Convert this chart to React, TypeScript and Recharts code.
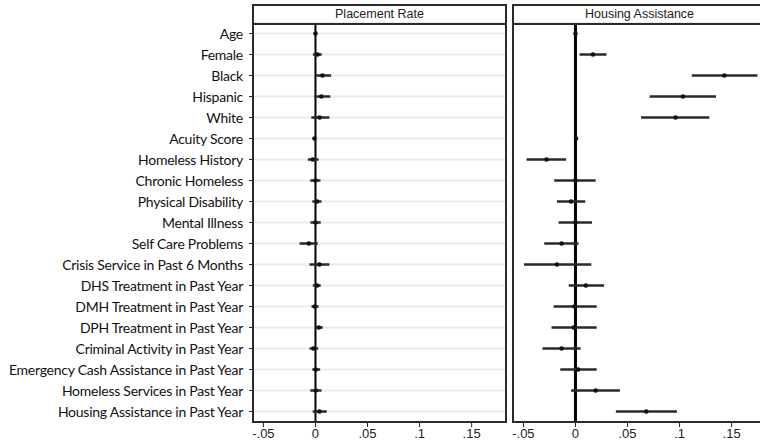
import React from "react";
import {
  ScatterChart,
  Scatter,
  XAxis,
  YAxis,
  CartesianGrid,
  ErrorBar,
  ReferenceLine,
} from "recharts";

// Covariates, top to bottom
const categories = [
  "Age",
  "Female",
  "Black ",
  "Hispanic",
  "White",
  "Acuity Score",
  "Homeless History",
  "Chronic Homeless",
  "Physical Disability",
  "Mental Illness",
  "Self Care Problems",
  "Crisis Service in Past 6 Months",
  "DHS Treatment in Past Year",
  "DMH Treatment in Past Year",
  "DPH Treatment in Past Year",
  "Criminal Activity in Past Year",
  "Emergency Cash Assistance in Past Year",
  "Homeless Services in Past Year",
  "Housing Assistance in Past Year",
];

// Placement Rate: point estimates and 95% CI bounds
const placementEst = [0.0, 0.002, 0.0067, 0.0057, 0.004, -0.001, -0.0026, 0.0, 0.0016, 0.0, -0.0064, 0.0038, 0.0016, -0.0006, 0.0032, -0.0019, 0.0003, 0.0003, 0.0038];
const placementLo = [-0.0005, -0.0025, 0.0006, -0.001, -0.004, -0.002, -0.0073, -0.005, -0.003, -0.0048, -0.0153, -0.0057, -0.0026, -0.0038, 0.0, -0.0057, -0.003, -0.005, -0.0026];
const placementHi = [0.0005, 0.006, 0.015, 0.0143, 0.0134, 0.0, 0.003, 0.0048, 0.0057, 0.005, 0.0022, 0.0134, 0.005, 0.003, 0.007, 0.0026, 0.0045, 0.0057, 0.0108];

// Housing Assistance: point estimates and 95% CI bounds
const housingEst = [0.0, 0.0168, 0.143, 0.1032, 0.0961, 0.0006, -0.0278, 0.0, -0.0042, 0.0, -0.0133, -0.0178, 0.01, -0.001, -0.0016, -0.0133, 0.0026, 0.0194, 0.068];
const housingLo = [-0.0005, 0.0039, 0.1117, 0.0712, 0.063, -0.001, -0.047, -0.0204, -0.0178, -0.0162, -0.03, -0.0495, -0.0065, -0.021, -0.023, -0.0317, -0.0146, -0.0042, 0.0388];
const housingHi = [0.0005, 0.0298, 0.1748, 0.135, 0.1285, 0.002, -0.009, 0.0194, 0.0094, 0.0159, 0.0029, 0.0152, 0.0275, 0.0204, 0.0204, 0.0049, 0.0204, 0.0427, 0.0974];

const xTicks = [-0.05, 0, 0.05, 0.1, 0.15];
const xTickLabels = ["-.05", "0", ".05", ".1", ".15"];

const X_DOMAIN: [number, number] = [-0.06, 0.183];
const rowIndex = categories.map((_, i) => i);

function buildRows(est: number[], lo: number[], hi: number[]) {
  return est.map((v, i) => ({
    y: i,
    x: v,
    err: [v - lo[i], hi[i] - v],
  }));
}

const placementRows = buildRows(placementEst, placementLo, placementHi);
const housingRows = buildRows(housingEst, housingLo, housingHi);

const Dot = (p: any) => <circle cx={p.cx} cy={p.cy} r={2.3} fill="#111" />;

const xTickFmt = (v: number) => {
  const i = xTicks.findIndex((t) => Math.abs(t - v) < 1e-9);
  return i >= 0 ? xTickLabels[i] : "";
};

// Single-line covariate label (no wrapping)
const CategoryTick = (p: any) => (
  <text
    x={p.x}
    y={p.y}
    dy="0.36em"
    textAnchor="end"
    fontFamily="Lato, sans-serif"
    fontSize={14}
    letterSpacing={-0.25}
    fill="#111"
  >
    {categories[p.payload.value]}
  </text>
);

const PLOT_W = 253;
const CHART_H = 442;

function Panel({
  rows,
  showLabels,
  zeroWidth,
}: {
  rows: any[];
  showLabels: boolean;
  zeroWidth: number;
}) {
  const yWidth = showLabels ? 253 : 8;
  return (
    <ScatterChart
      width={yWidth + PLOT_W}
      height={CHART_H}
      margin={{ top: 23, right: 0, bottom: 0, left: 0 }}
    >
      <CartesianGrid
        horizontal
        vertical={false}
        stroke="#e4edf2"
        strokeWidth={2}
      />
      <XAxis
        type="number"
        dataKey="x"
        domain={X_DOMAIN}
        ticks={xTicks}
        tickFormatter={xTickFmt}
        allowDataOverflow
        height={20}
        axisLine={false}
        tickSize={5}
        tickLine={{ stroke: "#222", strokeWidth: 1 }}
        tick={{ fontFamily: "Liberation Sans, Arial, sans-serif", fontSize: 13, fill: "#222" }}
        interval={0}
      />
      <YAxis
        type="number"
        dataKey="y"
        domain={[-0.5, 18.5]}
        ticks={rowIndex}
        reversed
        interval={0}
        width={yWidth}
        axisLine={false}
        tickSize={4}
        tickMargin={6}
        tickLine={{ stroke: "#222", strokeWidth: 1 }}
        tick={showLabels ? <CategoryTick /> : false}
      />
      <ReferenceLine x={0} stroke="#000" strokeWidth={zeroWidth} />
      <Scatter data={rows} shape={Dot} isAnimationActive={false}>
        <ErrorBar
          dataKey="err"
          direction="x"
          width={0}
          stroke="#2a2a2a"
          strokeWidth={2.5}
        />
      </Scatter>
    </ScatterChart>
  );
}

const frameStyle: React.CSSProperties = {
  position: "absolute",
  top: 4,
  height: 419,
  width: 255,
  boxSizing: "border-box",
  border: "2px solid #2a2a2a",
  pointerEvents: "none",
};

const headerStyle: React.CSSProperties = {
  position: "absolute",
  left: 0,
  top: 0,
  right: 0,
  height: 19,
  boxSizing: "border-box",
  borderBottom: "2px solid #2a2a2a",
  textAlign: "center",
  fontFamily: "Liberation Sans, Arial, sans-serif",
  fontSize: 12.5,
  lineHeight: "17px",
  color: "#222",
};

export default function App() {
  return (
    <div
      style={{
        position: "absolute",
        left: 0,
        top: 0,
        width: 760,
        height: 442,
        overflow: "hidden",
        background: "#fff",
      }}
    >
      <div style={{ position: "absolute", left: 0, top: 0 }}>
        <Panel rows={placementRows} showLabels zeroWidth={2} />
      </div>
      <div style={{ position: "absolute", left: 505, top: 0 }}>
        <Panel rows={housingRows} showLabels={false} zeroWidth={3} />
      </div>
      <div style={{ ...frameStyle, left: 252 }}>
        <div style={headerStyle}>Placement Rate</div>
      </div>
      <div style={{ ...frameStyle, left: 512 }}>
        <div style={headerStyle}>Housing Assistance</div>
      </div>
    </div>
  );
}
